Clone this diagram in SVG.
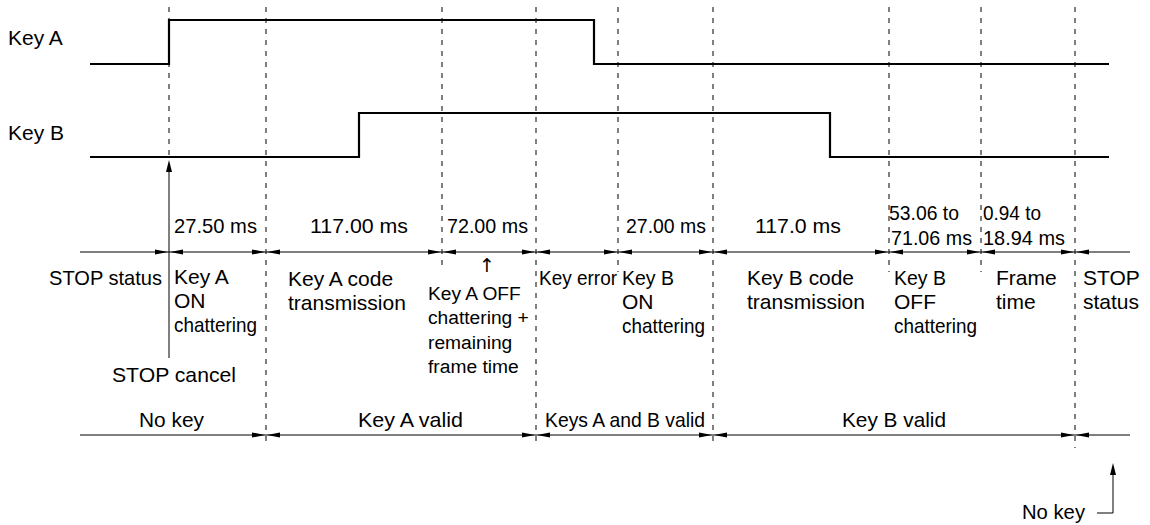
<svg xmlns="http://www.w3.org/2000/svg" xmlns:xlink="http://www.w3.org/1999/xlink" width="1150" height="525" viewBox="0 0 1150 525">
  <style>
    text { font-family: "Liberation Sans", Arial, "DejaVu Sans", sans-serif; font-size: 21px; fill: #000; }
    .small { font-size: 19.2px; }
    .glyph { font-family: "DejaVu Sans", "Liberation Sans", sans-serif; font-size: 19px; fill: #000; }
    .sig { fill: none; stroke: #000; stroke-width: 2.2; }
    .axis { fill: none; stroke: #000; stroke-width: 1; }
    .grid { fill: none; stroke: #000; stroke-width: 1; stroke-dasharray: 5 6; }
    .head { fill: #000; }
  </style>
  <defs>
    <!-- dimension arrowheads, tip at the origin -->
    <path id="ar" d="M0,0 L-13,-2.6 L-13,2.6 Z"/>
    <path id="al" d="M0,0 L13,-2.6 L13,2.6 Z"/>
  </defs>

  <rect width="1150" height="525" fill="#fff"/>

  <!-- time boundaries -->
  <g id="grid">
    <line class="grid" x1="169" y1="7" x2="169" y2="157"/>
    <line class="grid" x1="266" y1="7" x2="266" y2="446"/>
    <line class="grid" x1="442" y1="7" x2="442" y2="269"/>
    <line class="grid" x1="536" y1="7" x2="536" y2="446"/>
    <line class="grid" x1="618" y1="7" x2="618" y2="272"/>
    <line class="grid" x1="713" y1="7" x2="713" y2="446"/>
    <line class="grid" x1="889" y1="7" x2="889" y2="272"/>
    <line class="grid" x1="981" y1="7" x2="981" y2="272"/>
    <line class="grid" x1="1075" y1="7" x2="1075" y2="448"/>
  </g>

  <!-- key waveforms -->
  <g id="key-a">
    <text x="8" y="45">Key A</text>
    <path class="sig" d="M90,64 H169 V20 H594 V64 H1109"/>
  </g>
  <g id="key-b">
    <text x="8" y="140">Key B</text>
    <path class="sig" d="M90,157 H359 V113 H830 V157 H1109"/>
  </g>

  <!-- timing axes and arrows -->
  <g id="connectors">
    <line class="axis" x1="80" y1="252" x2="1130" y2="252"/>
    <g class="head">
      <use xlink:href="#ar" x="168" y="252"/><use xlink:href="#al" x="170" y="252"/>
      <use xlink:href="#ar" x="265" y="252"/><use xlink:href="#al" x="267" y="252"/>
      <use xlink:href="#ar" x="441" y="252"/><use xlink:href="#al" x="443" y="252"/>
      <use xlink:href="#ar" x="535" y="252"/><use xlink:href="#al" x="537" y="252"/>
      <use xlink:href="#ar" x="617" y="252"/><use xlink:href="#al" x="619" y="252"/>
      <use xlink:href="#ar" x="712" y="252"/><use xlink:href="#al" x="714" y="252"/>
      <use xlink:href="#ar" x="888" y="252"/><use xlink:href="#al" x="890" y="252"/>
      <use xlink:href="#ar" x="980" y="252"/><use xlink:href="#al" x="982" y="252"/>
      <use xlink:href="#ar" x="1074" y="252"/><use xlink:href="#al" x="1076" y="252"/>
    </g>
    <line class="axis" x1="80" y1="435" x2="1130" y2="435"/>
    <g class="head">
      <use xlink:href="#ar" x="265" y="435"/><use xlink:href="#al" x="267" y="435"/>
      <use xlink:href="#ar" x="535" y="435"/><use xlink:href="#al" x="537" y="435"/>
      <use xlink:href="#ar" x="712" y="435"/><use xlink:href="#al" x="714" y="435"/>
      <use xlink:href="#ar" x="1074" y="435"/><use xlink:href="#al" x="1076" y="435"/>
    </g>
    <!-- STOP cancel pointer -->
    <line class="axis" x1="169" y1="358" x2="169" y2="170"/>
    <path class="head" d="M169,160 L166,172 L172,172 Z"/>
    <!-- final No key pointer -->
    <path class="axis" d="M1097,513 H1113 V474"/>
    <path class="head" d="M1113,463 L1110,475 L1116,475 Z"/>
  </g>

  <!-- durations -->
  <g id="durations">
    <text x="174" y="233" textLength="83" lengthAdjust="spacingAndGlyphs">27.50 ms</text>
    <text x="310" y="233" textLength="98" lengthAdjust="spacingAndGlyphs">117.00 ms</text>
    <text x="447" y="233" textLength="81" lengthAdjust="spacingAndGlyphs">72.00 ms</text>
    <text x="626" y="233" textLength="80" lengthAdjust="spacingAndGlyphs">27.00 ms</text>
    <text x="755" y="233" textLength="86" lengthAdjust="spacingAndGlyphs">117.0 ms</text>
    <text x="889" y="220" textLength="70" lengthAdjust="spacingAndGlyphs">53.06 to</text>
    <text x="891" y="245" textLength="81" lengthAdjust="spacingAndGlyphs">71.06 ms</text>
    <text x="983" y="220" textLength="58" lengthAdjust="spacingAndGlyphs">0.94 to</text>
    <text x="983" y="245" textLength="82" lengthAdjust="spacingAndGlyphs">18.94 ms</text>
  </g>

  <!-- states -->
  <g id="stop-status">
    <text x="49" y="285" textLength="113" lengthAdjust="spacingAndGlyphs">STOP status</text>
  </g>
  <g id="key-a-on">
    <text x="174" y="284">Key A</text>
    <text x="174" y="308">ON</text>
    <text x="174" y="332" textLength="83" lengthAdjust="spacingAndGlyphs">chattering</text>
  </g>
  <g id="key-a-code">
    <text x="288" y="286">Key A code</text>
    <text x="288" y="310">transmission</text>
  </g>
  <g id="key-a-off">
    <text class="glyph" x="487" y="272" text-anchor="middle">↑</text>
    <text class="small" x="428" y="300">Key A OFF</text>
    <text class="small" x="428" y="324">chattering +</text>
    <text class="small" x="428" y="349">remaining</text>
    <text class="small" x="428" y="373">frame time</text>
  </g>
  <g id="key-error">
    <text x="539" y="285" textLength="78" lengthAdjust="spacingAndGlyphs">Key error</text>
  </g>
  <g id="key-b-on">
    <text x="622" y="285" textLength="52" lengthAdjust="spacingAndGlyphs">Key B</text>
    <text x="622" y="309">ON</text>
    <text x="622" y="333" textLength="83" lengthAdjust="spacingAndGlyphs">chattering</text>
  </g>
  <g id="key-b-code">
    <text x="747" y="285" textLength="107" lengthAdjust="spacingAndGlyphs">Key B code</text>
    <text x="747" y="309" textLength="118" lengthAdjust="spacingAndGlyphs">transmission</text>
  </g>
  <g id="key-b-off">
    <text x="894" y="285" textLength="52" lengthAdjust="spacingAndGlyphs">Key B</text>
    <text x="894" y="309">OFF</text>
    <text x="894" y="333" textLength="83" lengthAdjust="spacingAndGlyphs">chattering</text>
  </g>
  <g id="frame-time">
    <text x="996" y="285">Frame</text>
    <text x="996" y="309">time</text>
  </g>
  <g id="stop-status-end">
    <text x="1083" y="285">STOP</text>
    <text x="1083" y="309">status</text>
  </g>
  <g id="stop-cancel">
    <text x="112" y="382" textLength="124" lengthAdjust="spacingAndGlyphs">STOP cancel</text>
  </g>

  <!-- key validity -->
  <g id="validity">
    <text x="139" y="427" textLength="65" lengthAdjust="spacingAndGlyphs">No key</text>
    <text x="358" y="427" textLength="105" lengthAdjust="spacingAndGlyphs">Key A valid</text>
    <text x="545" y="427" textLength="160" lengthAdjust="spacingAndGlyphs">Keys A and B valid</text>
    <text x="842" y="427" textLength="104" lengthAdjust="spacingAndGlyphs">Key B valid</text>
  </g>
  <g id="no-key-end">
    <text x="1022" y="519" textLength="63" lengthAdjust="spacingAndGlyphs">No key</text>
  </g>
</svg>
